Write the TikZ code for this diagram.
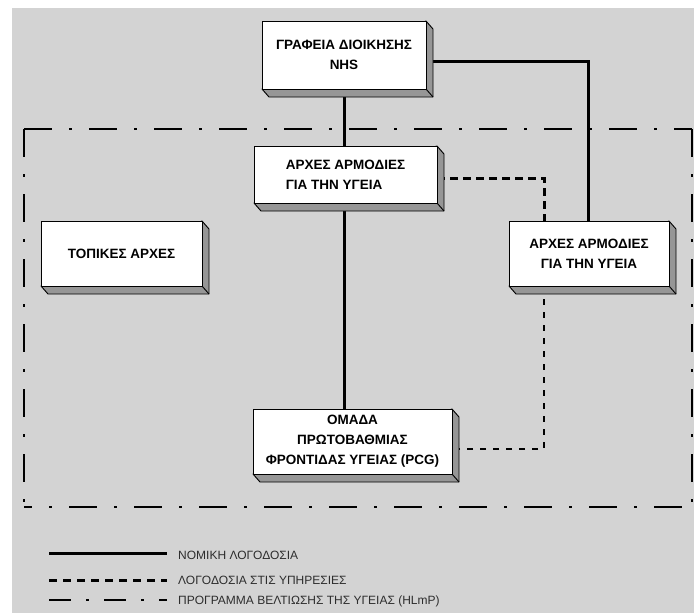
\documentclass[tikz,border=0pt]{standalone}
\usepackage{fontspec}
\setmainfont{Liberation Sans}
\usetikzlibrary{calc}
\pgfdeclarelayer{background}
\pgfdeclarelayer{bottom}
\pgfsetlayers{bottom,background,main}
\definecolor{bggray}{RGB}{211,211,211}
\definecolor{sidegray}{RGB}{150,150,150}
\definecolor{legtext}{RGB}{45,45,45}
\begin{document}
\begin{tikzpicture}[x=1pt,y=-1pt,
  box/.style={draw=black,line width=1pt,fill=white,inner sep=0pt,outer sep=0pt,
    font=\fontsize{13.5}{20}\selectfont\bfseries,align=center},
  side/.style={fill=sidegray,draw=black,line width=0.9pt,line join=round},
  legal/.style={line width=3pt},
  servdash/.style={line width=3pt,dash pattern=on 8pt off 5pt},
  servthin/.style={line width=2pt,dash pattern=on 6pt off 7pt},
  hlmp/.style={line width=2.6pt,dash pattern=on 28pt off 17pt on 3pt off 17pt},
  hlmpleg/.style={line width=2.6pt,dash pattern=on 22pt off 15pt on 3pt off 15pt},
  legdash/.style={line width=3pt,dash pattern=on 8pt off 6pt},
  leg/.style={anchor=west,inner sep=0pt,font=\fontsize{12}{13}\selectfont,text=legtext}
]
\useasboundingbox (0,0) rectangle (694,613);
\begin{pgfonlayer}{bottom}
\fill[bggray] (12,8) rectangle (694,613);
\end{pgfonlayer}

% boxes
\node[box,minimum width=164pt,minimum height=68pt] (nhs) at (344,55) {ΓΡΑΦΕΙΑ ΔΙΟΙΚΗΣΗΣ\\NHS};
\node[box,minimum width=183pt,minimum height=57pt,align=left] (arx) at (345.5,174.5) {ΑΡΧΕΣ ΑΡΜΟΔΙΕΣ\\ΓΙΑ ΤΗΝ ΥΓΕΙΑ};
\node[box,minimum width=161pt,minimum height=65pt] (topa) at (121.5,253.5) {ΤΟΠΙΚΕΣ ΑΡΧΕΣ};
\node[box,minimum width=160pt,minimum height=65pt] (arxr) at (589,253.5) {ΑΡΧΕΣ ΑΡΜΟΔΙΕΣ\\ΓΙΑ ΤΗΝ ΥΓΕΙΑ};
\node[box,minimum width=199pt,minimum height=65pt] (pcg) at (352.5,441.5) {ΟΜΑΔΑ\\ΠΡΩΤΟΒΑΘΜΙΑΣ\\ΦΡΟΝΤΙΔΑΣ ΥΓΕΙΑΣ (PCG)};

% 3D sides
\begin{pgfonlayer}{background}
\foreach \n in {nhs,arx,topa,arxr,pcg}{
  \draw[side] (\n.north east) -- ([shift={(7,8)}]\n.north east) -- ([shift={(7,8)}]\n.south east)
     -- ([shift={(7,8)}]\n.south west) -- (\n.south west) -- cycle;
  \draw[line width=0.9pt] (\n.south east) -- ([shift={(7,8)}]\n.south east);
}
\end{pgfonlayer}

% frame and connectors
\begin{pgfonlayer}{bottom}
\coordinate (tl) at (24,129);
\coordinate (tr) at (692,129);
\coordinate (bl) at (24,507);
\coordinate (br) at (692,507);
\draw[hlmp] (tl) -- (tr);
\draw[hlmp] (tl) -- (bl);
\draw[hlmp] (tr) -- (br);
\draw[hlmp,dash phase=20pt] (bl) -- (br);

\draw[legal] (nhs.south) -- (nhs.south |- arx.north);
\draw[legal] (nhs.south |- arx.south) -- (nhs.south |- pcg.north);
\draw[legal] ([yshift=-6pt]nhs.east) -| ([xshift=-1pt]arxr.north);
\draw[servdash] ([yshift=-3.5pt]arx.east) -| ([xshift=-45pt]arxr.north);
\draw[servthin] ([xshift=-45pt]arxr.south) |- ([yshift=-7.5pt]pcg.east);
\end{pgfonlayer}

% legend
\coordinate (l1a) at (49,553); \coordinate (l1b) at (167,553);
\coordinate (l2a) at (49,580); \coordinate (l2b) at (167,580);
\coordinate (l3a) at (49,600); \coordinate (l3b) at (167,600);
\draw[legal] (l1a) -- (l1b);
\draw[legdash] (l2a) -- (l2b);
\draw[hlmpleg] (l3a) -- (l3b);
\node[leg] (t1) at (178,555) {ΝΟΜΙΚΗ ΛΟΓΟΔΟΣΙΑ};
\node[leg] (t2) at (178,580) {ΛΟΓΟΔΟΣΙΑ ΣΤΙΣ ΥΠΗΡΕΣΙΕΣ};
\node[leg] (t3) at (178,601) {ΠΡΟΓΡΑΜΜΑ ΒΕΛΤΙΩΣΗΣ ΤΗΣ ΥΓΕΙΑΣ (HLmP)};
\end{tikzpicture}
\end{document}
